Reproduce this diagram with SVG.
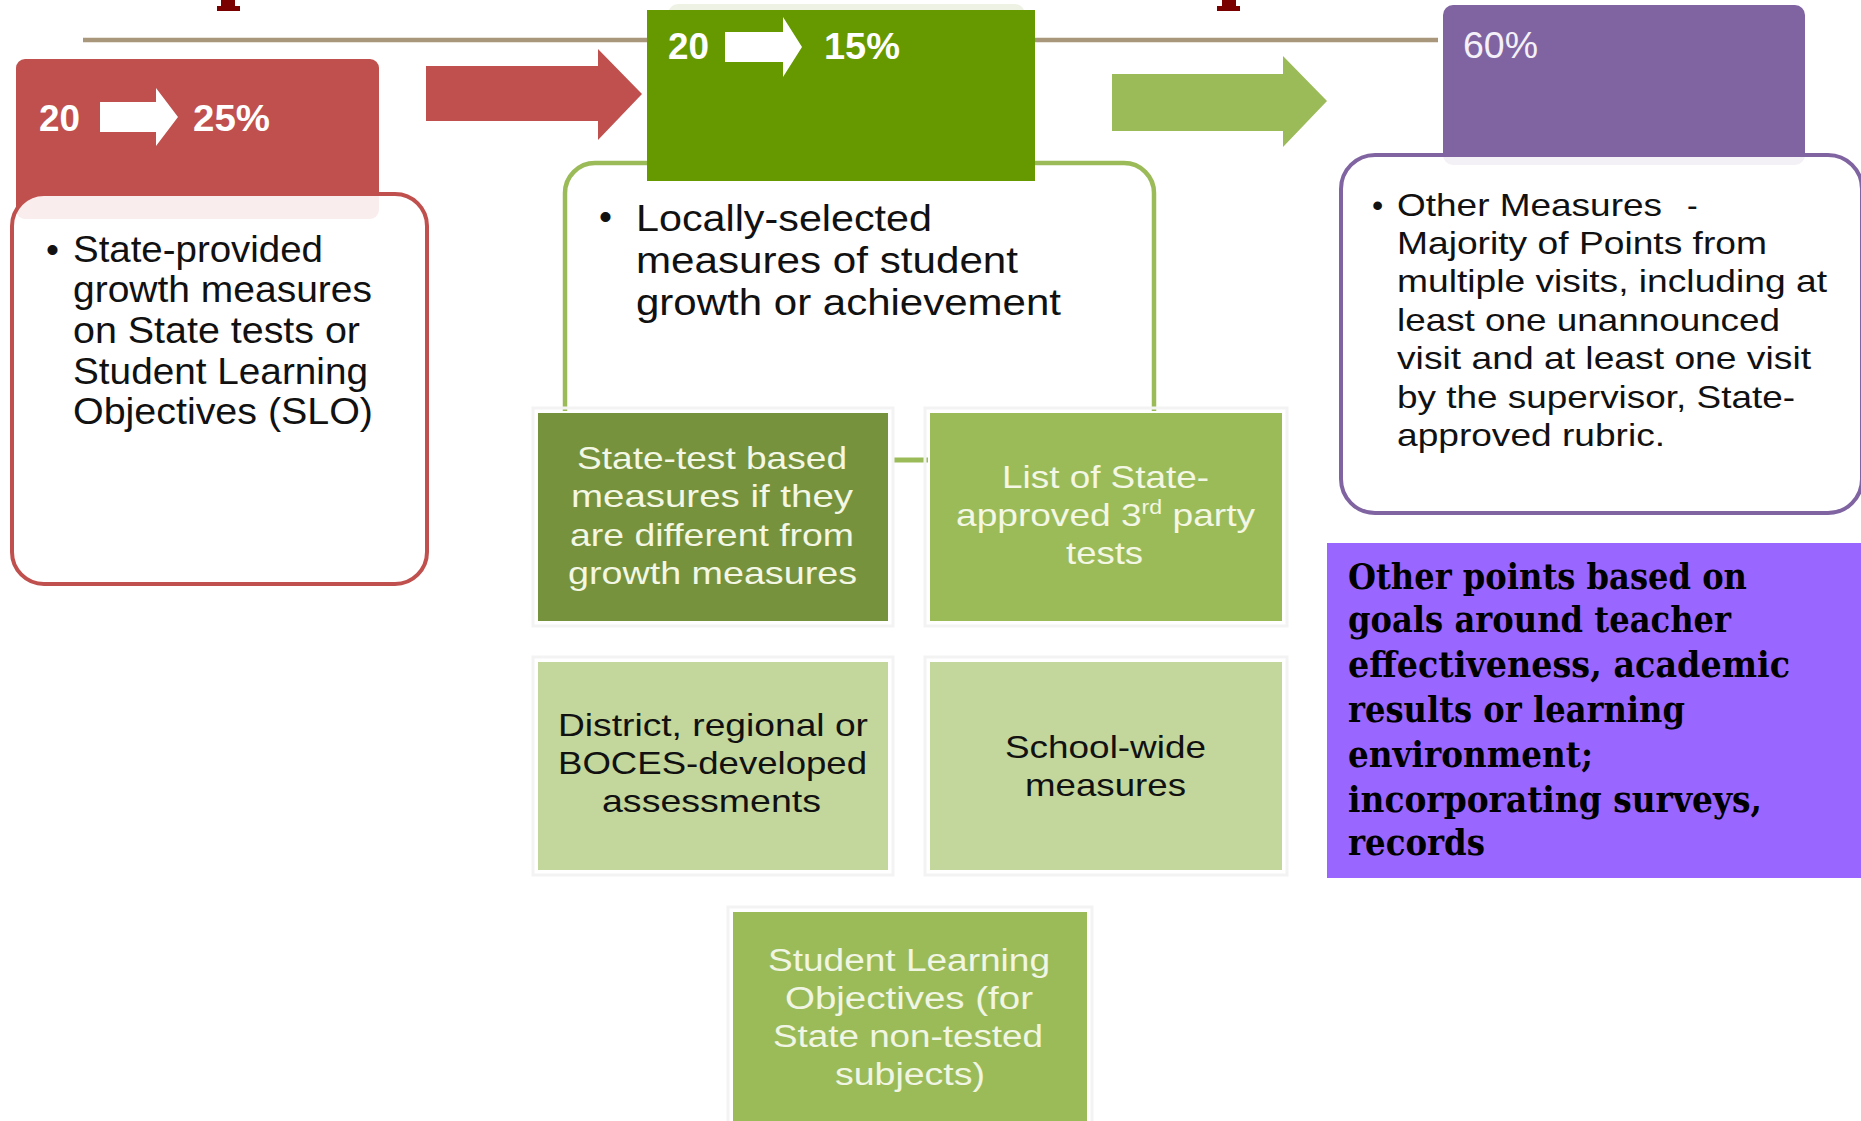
<svg xmlns="http://www.w3.org/2000/svg" width="1861" height="1121" viewBox="0 0 1861 1121">
<style>
  .sans { font-family: "Liberation Sans", Arial, sans-serif; }
  .slab { font-family: "DejaVu Serif", "Liberation Serif", serif; font-weight: bold; }
  .hdr { font-family: "Liberation Sans", Arial, sans-serif; font-weight: bold; fill: #ffffff; font-size: 36px; }
  .ink { fill: #111111; }
  .cream { fill: #F3F7E4; }
  .tile-shadow { fill: none; stroke: #F3F3F3; stroke-width: 3; }
  .arrow-w { fill: #ffffff; }
</style>
<rect x="0" y="0" width="1861" height="1121" fill="#ffffff"/>

<g id="title-remnants" fill="#7A0000">
  <rect x="221" y="0" width="14" height="8"/>
  <rect x="217" y="6" width="23" height="5"/>
  <rect x="1222" y="0" width="14" height="8"/>
  <rect x="1217" y="6" width="23" height="5"/>
</g>

<g id="timeline">
  <line x1="83" y1="40" x2="1438" y2="40" stroke="#A8977A" stroke-width="4.5"/>
</g>

<g id="connectors">
  <polygon points="426,66 598,66 598,49 642,94 598,140 598,121 426,121" fill="#C0504D"/>
  <polygon points="1112,74 1283,74 1283,56 1327,101 1283,147 1283,131 1112,131" fill="#9BBB59"/>
  <line x1="892" y1="460" x2="928" y2="460" stroke="#9BBB59" stroke-width="5"/>
</g>

<g id="node-state-provided">
  <rect x="16" y="59" width="363" height="160" rx="9" fill="#C0504D"/>
  <text class="hdr" x="39" y="131" textLength="41" lengthAdjust="spacingAndGlyphs">20</text>
  <polygon class="arrow-w" points="100,102 156,102 156,88 178,117 156,146 156,132 100,132"/>
  <text class="hdr" x="193" y="131" textLength="77" lengthAdjust="spacingAndGlyphs">25%</text>
  <rect x="12" y="194" width="415" height="390" rx="32" fill="#ffffff" fill-opacity="0.9" stroke="#C0504D" stroke-width="4"/>
  <g class="sans ink" font-size="37">
    <text x="46" y="262">•</text>
    <text x="73" y="262" textLength="250" lengthAdjust="spacingAndGlyphs">State-provided</text>
    <text x="73" y="302" textLength="299" lengthAdjust="spacingAndGlyphs">growth measures</text>
    <text x="73" y="343" textLength="287" lengthAdjust="spacingAndGlyphs">on State tests or</text>
    <text x="73" y="384" textLength="295" lengthAdjust="spacingAndGlyphs">Student Learning</text>
    <text x="73" y="424" textLength="300" lengthAdjust="spacingAndGlyphs">Objectives (SLO)</text>
  </g>
</g>

<g id="node-locally-selected">
  <rect x="668" y="4" width="357" height="40" rx="10" fill="#EDF2E4"/>
  <path d="M565,411 V193 A30,30 0 0 1 595,163 H1124 A30,30 0 0 1 1154,193 V411" fill="#ffffff" stroke="#9BBB59" stroke-width="4.5"/>
  <rect x="647" y="10" width="388" height="171" fill="#669900"/>
  <text class="hdr" x="668" y="59" textLength="41" lengthAdjust="spacingAndGlyphs">20</text>
  <polygon class="arrow-w" points="725,32 783,32 783,17 802,47 783,77 783,62 725,62"/>
  <text class="hdr" x="824" y="59" textLength="76" lengthAdjust="spacingAndGlyphs">15%</text>
  <g class="sans ink" font-size="37">
    <text x="599" y="229">•</text>
    <text x="636" y="231" textLength="296" lengthAdjust="spacingAndGlyphs">Locally-selected</text>
    <text x="636" y="273" textLength="382" lengthAdjust="spacingAndGlyphs">measures  of student</text>
    <text x="636" y="315" textLength="425" lengthAdjust="spacingAndGlyphs">growth  or achievement</text>
  </g>
</g>

<g id="node-state-test">
  <rect class="tile-shadow" x="533" y="408" width="360" height="218"/>
  <rect x="538" y="413" width="350" height="208" fill="#76923C"/>
  <g class="sans cream" font-size="32">
    <text x="577" y="469" textLength="270" lengthAdjust="spacingAndGlyphs">State-test based</text>
    <text x="571" y="507" textLength="282" lengthAdjust="spacingAndGlyphs">measures if they</text>
    <text x="570" y="546" textLength="284" lengthAdjust="spacingAndGlyphs">are different from</text>
    <text x="568" y="584" textLength="289" lengthAdjust="spacingAndGlyphs">growth measures</text>
  </g>
</g>

<g id="node-third-party">
  <rect class="tile-shadow" x="925" y="408" width="362" height="218"/>
  <rect x="930" y="413" width="352" height="208" fill="#9BBB59"/>
  <g class="sans cream" font-size="32">
    <text x="1002" y="488" textLength="207" lengthAdjust="spacingAndGlyphs">List of State-</text>
    <text x="956" y="526" textLength="299" lengthAdjust="spacingAndGlyphs">approved 3<tspan font-size="20" dy="-12">rd</tspan><tspan dy="12"> party</tspan></text>
    <text x="1066" y="564" textLength="77" lengthAdjust="spacingAndGlyphs">tests</text>
  </g>
</g>

<g id="node-district">
  <rect class="tile-shadow" x="533" y="657" width="360" height="218"/>
  <rect x="538" y="662" width="350" height="208" fill="#C3D69B"/>
  <g class="sans ink" font-size="32">
    <text x="558" y="736" textLength="310" lengthAdjust="spacingAndGlyphs">District, regional or</text>
    <text x="558" y="774" textLength="309" lengthAdjust="spacingAndGlyphs">BOCES-developed</text>
    <text x="602" y="812" textLength="219" lengthAdjust="spacingAndGlyphs">assessments</text>
  </g>
</g>

<g id="node-school-wide">
  <rect class="tile-shadow" x="925" y="657" width="362" height="218"/>
  <rect x="930" y="662" width="352" height="208" fill="#C3D69B"/>
  <g class="sans ink" font-size="32">
    <text x="1005" y="758" textLength="201" lengthAdjust="spacingAndGlyphs">School-wide</text>
    <text x="1025" y="796" textLength="161" lengthAdjust="spacingAndGlyphs">measures</text>
  </g>
</g>

<g id="node-slo">
  <rect class="tile-shadow" x="728" y="907" width="364" height="230"/>
  <rect x="733" y="912" width="354" height="209" fill="#9BBB59"/>
  <g class="sans" font-size="31" fill="#F1F6E4">
    <text x="768" y="971" textLength="282" lengthAdjust="spacingAndGlyphs">Student Learning</text>
    <text x="785" y="1009" textLength="248" lengthAdjust="spacingAndGlyphs">Objectives  (for</text>
    <text x="773" y="1047" textLength="270" lengthAdjust="spacingAndGlyphs">State non-tested</text>
    <text x="835" y="1085" textLength="150" lengthAdjust="spacingAndGlyphs">subjects)</text>
  </g>
</g>

<g id="node-other-measures">
  <rect x="1443" y="5" width="362" height="160" rx="10" fill="#8064A2"/>
  <text class="sans" x="1463" y="58" font-size="37" fill="#F4F1F8" textLength="75" lengthAdjust="spacingAndGlyphs">60%</text>
  <rect x="1341" y="155" width="521" height="358" rx="34" fill="#ffffff" fill-opacity="0.9" stroke="#8064A2" stroke-width="4"/>
  <g class="sans ink" font-size="32">
    <text x="1372" y="216">•</text>
    <text x="1397" y="216" textLength="265" lengthAdjust="spacingAndGlyphs">Other Measures</text>
    <text x="1687" y="216">-</text>
    <text x="1397" y="254" textLength="370" lengthAdjust="spacingAndGlyphs">Majority of Points from</text>
    <text x="1397" y="292" textLength="430" lengthAdjust="spacingAndGlyphs">multiple visits, including at</text>
    <text x="1397" y="331" textLength="383" lengthAdjust="spacingAndGlyphs">least one unannounced</text>
    <text x="1397" y="369" textLength="414" lengthAdjust="spacingAndGlyphs">visit and at least one visit</text>
    <text x="1397" y="408" textLength="398" lengthAdjust="spacingAndGlyphs">by the supervisor, State-</text>
    <text x="1397" y="446" textLength="268" lengthAdjust="spacingAndGlyphs">approved  rubric.</text>
  </g>
</g>

<g id="node-other-points">
  <rect x="1327" y="543" width="534" height="335" fill="#9966FF"/>
  <g class="slab" font-size="35" fill="#000000">
    <text x="1348" y="589" textLength="399" lengthAdjust="spacingAndGlyphs">Other points based on</text>
    <text x="1348" y="632" textLength="383" lengthAdjust="spacingAndGlyphs">goals around teacher</text>
    <text x="1348" y="677" textLength="442" lengthAdjust="spacingAndGlyphs">effectiveness, academic</text>
    <text x="1348" y="722" textLength="337" lengthAdjust="spacingAndGlyphs">results or learning</text>
    <text x="1348" y="767" textLength="245" lengthAdjust="spacingAndGlyphs">environment;</text>
    <text x="1348" y="812" textLength="414" lengthAdjust="spacingAndGlyphs">incorporating surveys,</text>
    <text x="1348" y="855" textLength="137" lengthAdjust="spacingAndGlyphs">records</text>
  </g>
</g>
</svg>
